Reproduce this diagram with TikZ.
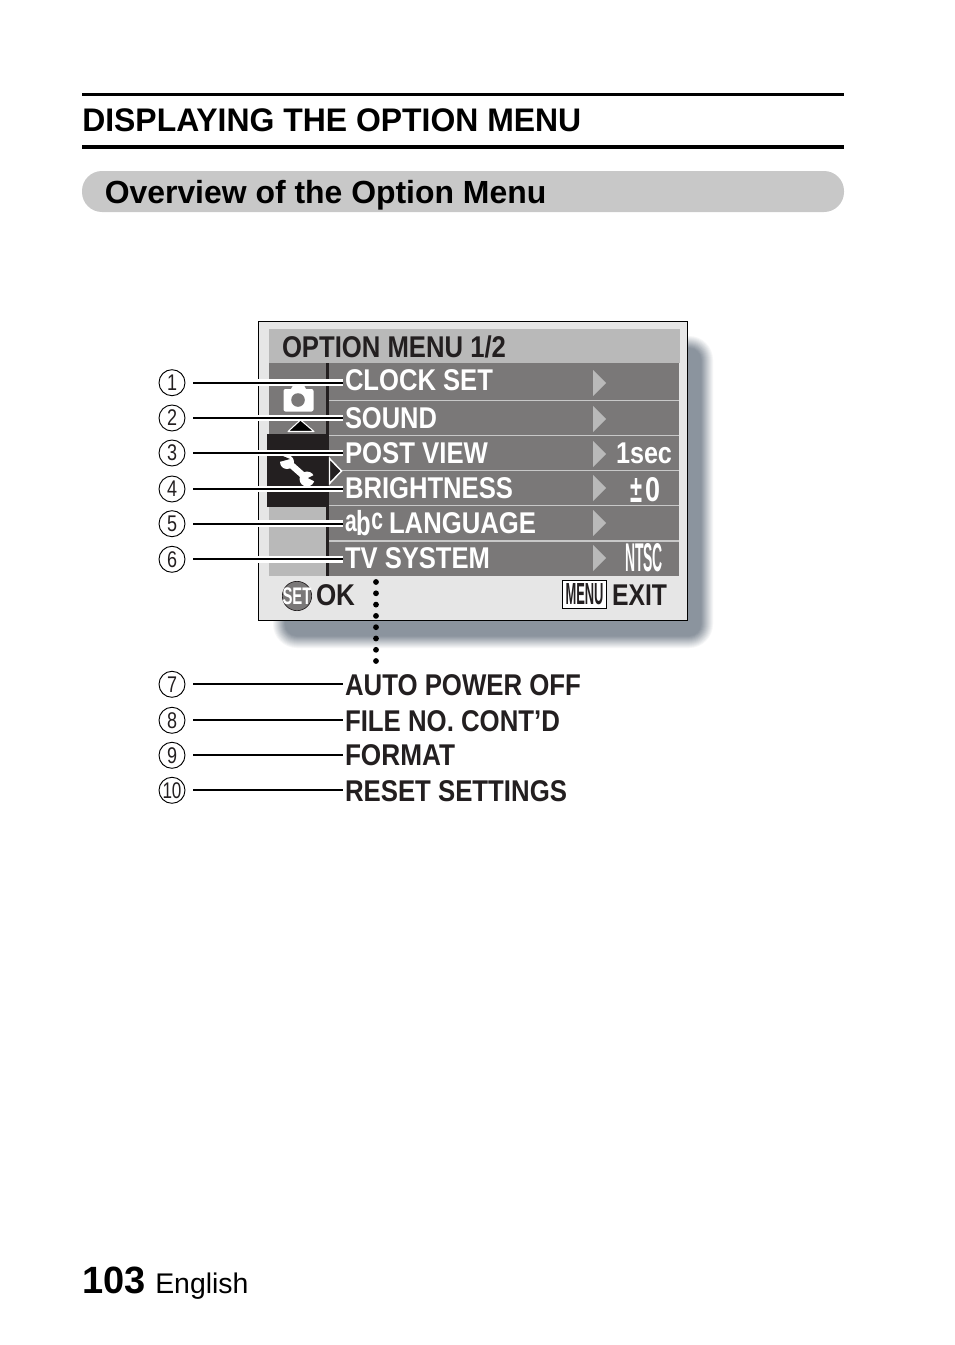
\documentclass[tikz,border=0pt]{standalone}
\usepackage{graphicx}
\usepackage{fontspec}
\setmainfont{Liberation Sans}
\newcommand{\fitw}[2]{\resizebox{\dimexpr #1pt*3/4\relax}{\height}{#2}}
\newcommand{\fitwh}[3]{\resizebox{\dimexpr #1pt*3/4\relax}{\dimexpr #2pt*3/4\relax}{#3}}
\definecolor{menugrey}{HTML}{7A7878}
\definecolor{lightbar}{HTML}{B9B9B9}
\definecolor{panel}{HTML}{E6E6E6}
\definecolor{inkdark}{HTML}{231F20}
\definecolor{pillgrey}{HTML}{C8C8C8}
\definecolor{shadowc}{HTML}{8B949E}
\tikzset{
  txt/.style={inner sep=0pt,outer sep=0pt,anchor=base west,font=\fontsize{22.5}{22.5}\selectfont\bfseries},
  menutxt/.style={txt,text=white},
  darktxt/.style={txt,text=inkdark},
  lab/.style={inner sep=0pt,outer sep=1.5pt,anchor=base west,font=\fontsize{22.5}{22.5}\selectfont\bfseries},
  numc/.style={circle,draw=black,line width=0.7pt,fill=white,minimum size=19.5pt,inner sep=0pt,outer sep=6pt,font=\fontsize{17}{17}\selectfont,text=inkdark},
  halo/.style={white,line width=5.2pt},
  lead/.style={black,line width=1.6pt},
  sepline/.style={pillgrey,line width=0.8pt},
  gtri/.style={fill=lightbar,draw=none},
}
\begin{document}
\begin{tikzpicture}[x=0.75pt,y=-0.75pt]
\useasboundingbox[fill=white] (0,0) rectangle (954,1345);
% header
\fill[black] (82,93) rectangle (844,96);
\fill[black] (82,145) rectangle (844,149);
\node[inner sep=0pt,anchor=base west,font=\fontsize{24.5}{24.5}\selectfont\bfseries] (title) at (82,131) {\fitw{499}{DISPLAYING THE OPTION MENU}};
\fill[pillgrey,rounded corners=15pt] (82,171) rectangle (844,212);
\node[inner sep=0pt,anchor=base west,font=\fontsize{24}{24}\selectfont\bfseries] (sub) at (104.5,203) {\fitw{441.5}{Overview of the Option Menu}};
% shadow
\foreach \i in {0,...,13}{
  \pgfmathsetmacro\p{min(100,8+\i*8)}
  \fill[shadowc!\p!white,rounded corners={(24-\i)*0.75pt}] (273+\i,336+\i) rectangle (713-\i,648-\i);
}
% menu panel
\draw[fill=panel,draw=black,line width=1.1pt] (258.5,321.5) rectangle (687.5,620.5);
\fill[lightbar] (269,329) rectangle (680,363);
\fill[menugrey] (269,363) rectangle (329,434);
\fill[lightbar] (269,507) rectangle (329,576);
\fill[inkdark] (267,434) rectangle (329,507);
\fill[menugrey] (329,363) rectangle (679,576);
\fill[inkdark] (326,363) rectangle (329,576);
\foreach \y in {400.5,435.5,470.5,505.5,541}{\draw[sepline] (329,\y) -- (679,\y);}
\foreach \y in {383,419,454,488,523,558}{\fill[gtri] (593,\y-13) -- (606,\y) -- (593,\y+13) -- cycle;}
% camera icon
\fill[white,rounded corners=1.5pt] (283.5,389) rectangle (313.5,411.5);
\fill[white] (291,389) -- (293.5,384.5) -- (303.5,384.5) -- (306,389) -- cycle;
\fill[menugrey] (298,400) circle (6.8);
% up triangle, right triangle
\draw[fill=black,draw=white,line width=0.8pt,line join=round] (288,431.5) -- (300.5,420) -- (314,431.5) -- cycle;
\draw[fill=inkdark,draw=white,line width=1.1pt,line join=miter] (329.5,458.5) -- (341.5,471) -- (329.5,483.5) -- cycle;
% wrench
\draw[white,line width=4.8pt] (289,463) -- (306,478);
\fill[white] (287,462) circle (7);
\fill[white] (307,479) circle (7.5);
\fill[inkdark] (278,454) -- (290,459) -- (279,462) -- cycle;
\fill[inkdark] (308,478) -- (318,473) -- (318,483) -- cycle;
% titles in menu
\node[darktxt] (mtitle) at (282,357) {\fitw{224}{OPTION MENU 1/2}};
\node[menutxt,outer sep=1.5pt] (l1) at (343,390) {\fitw{148}{CLOCK SET}};
\node[menutxt,outer sep=1.5pt] (l2) at (343,428) {\fitw{92}{SOUND}};
\node[menutxt,outer sep=1.5pt] (l3) at (343,463.5) {\fitw{143}{POST VIEW}};
\node[menutxt,outer sep=1.5pt] (l4) at (343,498.5) {\fitw{168}{BRIGHTNESS}};
\node[menutxt,outer sep=1.5pt] (l5) at (343,531) {\fitw{38}{{\fontsize{23}{23}\selectfont a\raisebox{-3.5pt}{\fontsize{26}{26}\selectfont b}\raisebox{1pt}{c}}}};
\node[menutxt] (l5b) at (389,533.5) {\fitw{147}{LANGUAGE}};
\node[menutxt,outer sep=1.5pt] (l6) at (343,568.5) {\fitw{145}{TV SYSTEM}};
\node[menutxt] (v3) at (616,463) {\fitw{56}{1sec}};
\node[menutxt] (v4a) at (630.5,502) {\fitwh{12}{24}{±}};
\node[menutxt] (v4b) at (645,501) {\fitwh{15}{24}{0}};
\node[menutxt] (v6) at (625,571) {\fitwh{38}{28}{NTSC}};
% bottom row
\node[circle,fill=menugrey,draw=inkdark,line width=0.5pt,minimum size=22pt,inner sep=0pt] (setc) at (297,596) {};
\node[menutxt,anchor=center,font=\fontsize{18}{18}\selectfont\bfseries] (sett) at (297,596) {\fitw{29}{SET}};
\node[darktxt] (ok) at (316,605) {\fitw{39}{OK}};
\node[draw=black,fill=white,line width=0.8pt,minimum width=33.5pt,minimum height=20.5pt,inner sep=0pt,anchor=center] (menub) at (584.5,594.5) {};
\node[darktxt,anchor=center,font=\fontsize{16}{16}\selectfont\bfseries] (menut) at (584.5,594.5) {\fitwh{38}{21}{MENU}};
\node[darktxt] (exit) at (612,605) {\fitw{55}{EXIT}};
% numbers
\foreach \n/\y in {1/382.7,2/418,3/453,4/489,5/523.7,6/559.3,7/684.3,8/720.3,9/755.3}{
  \node[numc] (n\n) at (172,\y) {\fitw{10}{\n}};
}
\node[numc] (n10) at (172,790.3) {\fitw{19}{10}};
% outer labels
\node[lab,text=inkdark] (l7) at (343,695) {\fitw{236}{AUTO POWER OFF}};
\node[lab,text=inkdark] (l8) at (343,731) {\fitw{215}{FILE NO. CONT’D}};
\node[lab,text=inkdark] (l9) at (343,765) {\fitw{110}{FORMAT}};
\node[lab,text=inkdark] (l10) at (343,801) {\fitw{222}{RESET SETTINGS}};
% leaders
\foreach \n/\t in {1/l1,2/l2,3/l3,4/l4,5/l5,6/l6}{
  \draw[halo] (n\n) -- (n\n -| \t.west);
  \draw[lead] (n\n) -- (n\n -| \t.west);
}
\foreach \n/\t in {7/l7,8/l8,9/l9,10/l10}{
  \draw[lead] (n\n) -- (n\n -| \t.west);
}
% dots
\foreach \y in {582,593.3,604.6,615.9,627.2,638.5,649.8,661}{\fill[black] (376,\y) circle (2.9);}
% footer
\node[inner sep=0pt,anchor=base west,font=\fontsize{28.5}{28.5}\selectfont\bfseries] (page) at (82,1293) {103};
\node[inner sep=0pt,anchor=base west,font=\fontsize{21.3}{21.3}\selectfont] (lang) at (155,1293) {English};
\end{tikzpicture}
\end{document}
